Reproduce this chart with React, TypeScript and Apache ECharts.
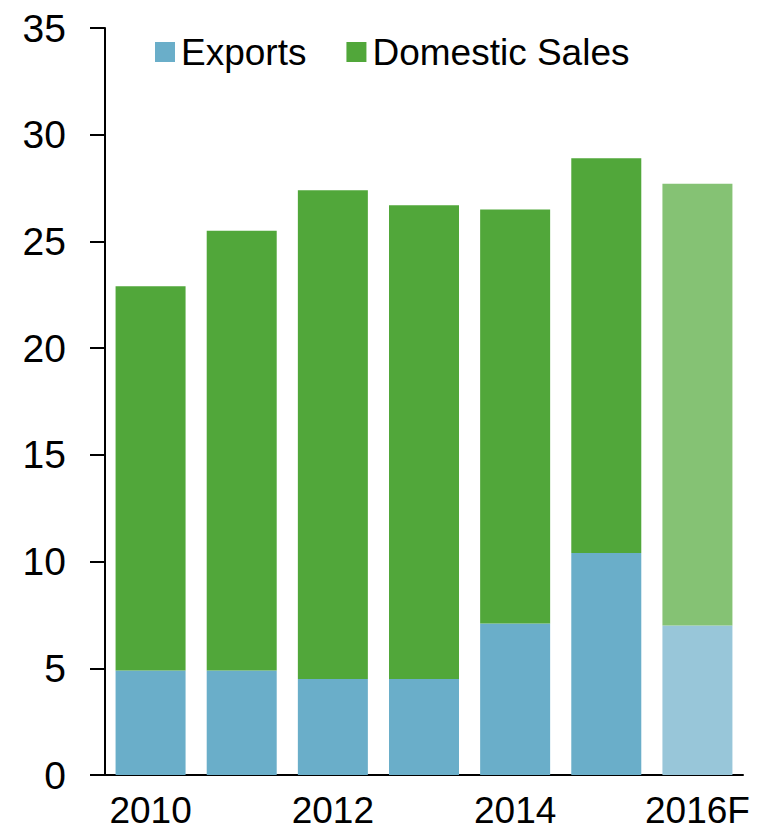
import React, { useEffect, useRef } from "react";
import * as echarts from "echarts";

const categories = ["2010", "2011", "2012", "2013", "2014", "2015", "2016F"];
const exportsValues = [4.9, 4.9, 4.5, 4.5, 7.1, 10.4, 7.0];
const domesticValues = [18.0, 20.6, 22.9, 22.2, 19.4, 18.5, 20.7];
const yTicks = { min: 0, max: 35, interval: 5 };

const EXPORT_COLOR = "#6aaec9";
const EXPORT_FORECAST = "#98c6d9";
const DOMESTIC_COLOR = "#51a73a";
const DOMESTIC_FORECAST = "#85c274";

const FONT = "'Liberation Sans', Arial, sans-serif";

export default function App() {
  const ref = useRef<HTMLDivElement>(null);
  useEffect(() => {
    if (!ref.current) return;
    const chart = echarts.init(ref.current, undefined, { renderer: "svg" });
    const mk = (vals: number[], base: string, fc: string) =>
      vals.map((v, i) => ({
        value: v,
        itemStyle: { color: categories[i].endsWith("F") ? fc : base },
      }));
    chart.setOption({
      animation: false,
      textStyle: { fontFamily: FONT },
      legend: {
        left: 150,
        top: 27,
        itemWidth: 20,
        itemHeight: 20,
        itemGap: 40,
        icon: "rect",
        textStyle: { fontSize: 37, lineHeight: 40, color: "#000", fontFamily: FONT, padding: [0, 0, 0, 1] },
        data: [
          { name: "Exports", itemStyle: { color: EXPORT_COLOR } },
          { name: "Domestic Sales", itemStyle: { color: DOMESTIC_COLOR } },
        ],
      },
      grid: { left: 105, right: 15, top: 28, bottom: 57, containLabel: false },
      xAxis: {
        type: "category",
        data: categories,
        axisLine: { lineStyle: { color: "#000", width: 2 } },
        axisTick: { show: false },
        axisLabel: { interval: 1, fontSize: 37, lineHeight: 34, color: "#000", margin: 18, fontFamily: FONT },
      },
      yAxis: {
        type: "value",
        min: yTicks.min,
        max: yTicks.max,
        interval: yTicks.interval,
        splitLine: { show: false },
        axisLine: { show: true, lineStyle: { color: "#000", width: 2 } },
        axisTick: { show: true, length: 15, lineStyle: { color: "#000", width: 2 } },
        axisLabel: { fontSize: 39, color: "#000", margin: 39, fontFamily: FONT },
      },
      series: [
        {
          name: "Exports",
          type: "bar",
          stack: "total",
          barWidth: 70,
          itemStyle: { color: EXPORT_COLOR },
          data: mk(exportsValues, EXPORT_COLOR, EXPORT_FORECAST),
        },
        {
          name: "Domestic Sales",
          type: "bar",
          stack: "total",
          barWidth: 70,
          itemStyle: { color: DOMESTIC_COLOR },
          data: mk(domesticValues, DOMESTIC_COLOR, DOMESTIC_FORECAST),
        },
      ],
    });
    return () => chart.dispose();
  }, []);
  return (
    <div
      ref={ref}
      style={{ position: "fixed", left: 0, top: 0, width: 758, height: 832, background: "#fff" }}
    />
  );
}
